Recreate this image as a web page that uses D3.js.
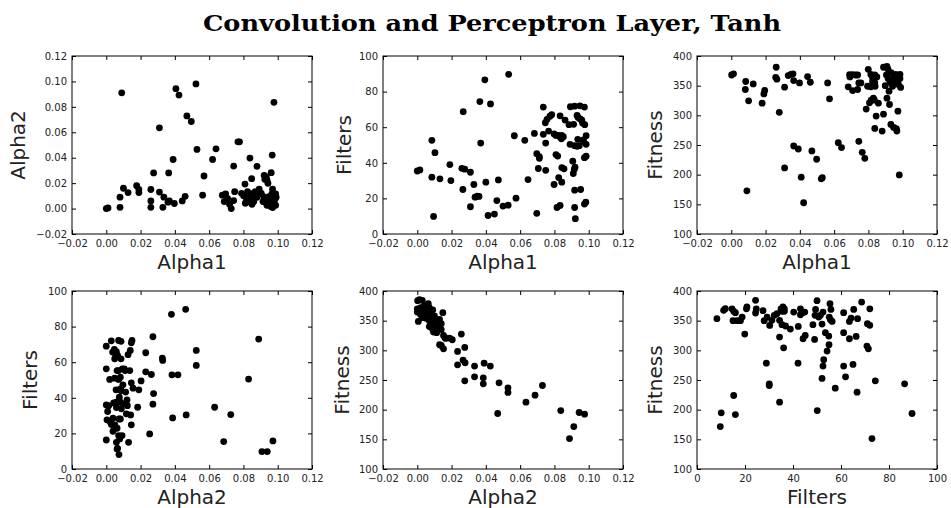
<!DOCTYPE html>
<html>
<head>
<meta charset="utf-8">
<title>Convolution and Perceptron Layer, Tanh</title>
<script src="https://d3js.org/d3.v7.min.js"></script>
<style>
  body { margin: 0; background: #fff; }
  svg text { font-family: "DejaVu Sans", sans-serif; fill: #222; }
</style>
</head>
<body>
<div id="chart"></div>
<script>
// tick values
var alphaTicks = [-0.02, 0.00, 0.02, 0.04, 0.06, 0.08, 0.10, 0.12];
var filtersTicks = [0, 20, 40, 60, 80, 100];
var fitnessTicks = [100, 150, 200, 250, 300, 350, 400];

// points, [x, y]
var alpha1Alpha2 = [
  [0.000,0.000],[0.001,0.0005],[0.009,0.091],[0.008,0.001],[0.008,0.009],[0.010,0.016],[0.0127,0.0126],
  [0.0177,0.018],[0.019,0.015],[0.019,0.0126],[0.026,0.015],[0.026,0.006],[0.026,0.001],[0.0276,0.028],
  [0.031,0.0635],[0.031,0.013],[0.033,0.001],[0.0336,0.009],[0.036,0.005],[0.0364,0.028],[0.0368,0.006],
  [0.039,0.0386],[0.0397,0.004],[0.0406,0.0943],[0.0424,0.0893],[0.0443,0.006],[0.046,0.0096],[0.047,0.0729],
  [0.0496,0.0685],[0.0523,0.098],[0.0529,0.0465],[0.0562,0.0105],[0.057,0.0256],[0.062,0.0386],[0.064,0.047],
  [0.0677,0.0105],[0.0696,0.0115],[0.0708,0.0079],[0.0688,0.0055],[0.0719,0.0034],[0.0729,0.000],[0.0743,0.0063],
  [0.0749,0.0133],[0.0743,0.0334],[0.0768,0.0525],[0.0777,0.0525],[0.0809,0.0193],[0.0838,0.0397],[0.0848,0.0235],
  [0.0879,0.0332],[0.0789,0.012],[0.0801,0.010],[0.0817,0.0084],[0.0830,0.0115],[0.0844,0.0094],[0.0856,0.012],
  [0.0811,0.0042],[0.0830,0.0052],[0.0850,0.0034],[0.0879,0.0089],[0.0892,0.0152],[0.0904,0.012],[0.0918,0.0094],
  [0.0929,0.0058],[0.0937,0.0026],[0.0947,0.0037],[0.0956,0.0079],[0.0966,0.0115],[0.0976,0.0094],[0.0988,0.0026],
  [0.0984,0.0073],[0.0972,0.0052],[0.0960,0.0016],[0.0921,0.0261],[0.0937,0.0225],[0.0943,0.0199],[0.0962,0.0282],
  [0.0968,0.0421],[0.0970,0.0152],[0.0978,0.0836],[0.0970,0.0008],[0.0991,0.0089],[0.0988,0.0115],[0.0925,0.023],
  [0.0933,0.025],[0.0869,0.0133],[0.0824,0.0133],[0.0914,0.0055],[0.0949,0.0094],[0.0860,0.0055]
];

var alpha1Filters = [
  [0.000,35.4],[0.0015,36],[0.0085,52.6],[0.0085,31.9],[0.0095,9.9],[0.0103,45.7],[0.0132,31],[0.019,39],
  [0.0196,30],[0.026,36.9],[0.0277,36.4],[0.0266,25],[0.0268,68.7],[0.031,34.7],[0.031,15.3],[0.033,27.8],
  [0.0337,20.7],[0.035,21.3],[0.036,21.1],[0.0365,74.4],[0.037,51.1],[0.0394,86.6],[0.040,29.1],[0.0413,10.4],
  [0.0427,73.1],[0.045,11.2],[0.0464,18.8],[0.0473,30.4],[0.050,15.7],[0.053,16.2],[0.0533,89.7],[0.0566,55.2],
  [0.0576,20.1],[0.0627,52.6],[0.0646,30.6],[0.0683,56.5],[0.0697,11.6],[0.0697,45.1],[0.0712,43.5],[0.0712,42.5],
  [0.0706,36.8],[0.0735,56],[0.0735,71.3],[0.0747,62.5],[0.0749,51.1],[0.0749,35.8],[0.0757,64.4],[0.0766,57.8],
  [0.0774,66.2],[0.0784,67],[0.0798,27.8],[0.0809,44.6],[0.0819,43.8],[0.0798,56.2],[0.0809,55.4],[0.0821,55.4],
  [0.0833,54.5],[0.0842,55.4],[0.0852,54.7],[0.0815,14.9],[0.0833,16],[0.0825,31.7],[0.0833,66.4],[0.0841,53.5],
  [0.0843,29.1],[0.0843,37.3],[0.0856,36.6],[0.0862,64],[0.0885,61.4],[0.0891,50.4],[0.0893,71.5],[0.0918,71.8],
  [0.0949,72],[0.0975,71.3],[0.0907,40.9],[0.0912,61.6],[0.091,34],[0.0916,36.4],[0.092,37.5],[0.0918,24.6],
  [0.0918,49.6],[0.0932,49.3],[0.0945,49.6],[0.0918,14.9],[0.0922,8.6],[0.0932,66.6],[0.0938,65.5],[0.095,64.6],
  [0.096,64],[0.0936,53.2],[0.0953,25],[0.0964,62.3],[0.0968,52.8],[0.0975,16.8],[0.0983,17.9],[0.0975,42.9],
  [0.0985,43.7],[0.0977,61.4],[0.0985,50.4],[0.0985,55.2],[0.097,51.9]
];

var alpha1Fitness = [
  [0.0002,368],[0.0013,370],[0.0084,357],[0.0082,343.5],[0.0101,324.5],[0.0091,172.8],[0.0128,353],[0.018,320.5],
  [0.019,336],[0.0195,342],[0.0262,381],[0.0259,364],[0.0266,361],[0.028,305],[0.0311,347.4],[0.0311,211.4],
  [0.0332,367],[0.0348,369],[0.036,370],[0.0364,358.6],[0.0364,248.3],[0.0391,243.3],[0.0398,354.7],[0.0408,195.7],
  [0.0422,152.7],[0.0445,365.3],[0.0461,355.8],[0.047,240],[0.0498,226],[0.0525,193],[0.0531,195],[0.0562,354.7],
  [0.0573,327.8],[0.0624,254],[0.0643,245.6],[0.0682,348],[0.0692,364.7],[0.069,368.7],[0.0708,368.7],[0.0725,368],
  [0.0737,368],[0.0708,341.8],[0.0737,343.5],[0.0744,354.7],[0.0756,354.7],[0.0744,256.2],[0.0764,237.7],[0.0779,227.6],
  [0.0787,310.5],[0.0799,377.6],[0.0795,349],[0.0814,369],[0.0824,363.6],[0.0837,368],[0.0849,364.7],[0.0814,348],
  [0.0824,357],[0.0837,355],[0.0839,349],[0.0806,321],[0.0816,325.6],[0.0829,329],[0.0835,325.6],[0.0858,320.5],
  [0.0837,278],[0.0845,298.7],[0.088,273.5],[0.0888,302],[0.0908,382.6],[0.0888,381],[0.0914,378],[0.0905,368],
  [0.0915,362],[0.0925,358],[0.0933,354],[0.0941,349],[0.0949,365],[0.0959,369],[0.0953,358],[0.0969,356],
  [0.0984,362],[0.0988,347],[0.0984,369],[0.092,340.7],[0.0908,329],[0.0923,318.3],[0.0898,350],[0.0932,372],
  [0.0975,352],[0.0931,284.7],[0.0947,279.7],[0.0963,277.5],[0.0966,273.5],[0.0972,307],[0.098,199.6]
];

var alpha2Filters = [
  [0.000,69],[0.0029,72],[0.000,56.3],[0.000,36],[0.000,16.3],[0.0008,32.3],[0.0004,27.6],[0.0014,35.6],
  [0.002,50.3],[0.0024,26.3],[0.003,25],[0.0037,65.7],[0.0039,28.5],[0.0039,21.2],[0.0043,37.1],[0.0047,67.2],
  [0.0053,64.7],[0.0059,65.9],[0.0049,61.9],[0.0049,51],[0.005,24.8],[0.0059,34.5],[0.0059,37.5],[0.0057,44.5],
  [0.0059,15],[0.0063,11.3],[0.0066,11.6],[0.0063,55.3],[0.0072,55.3],[0.0063,22.9],[0.0066,63.8],[0.0072,72.2],
  [0.0086,71.7],[0.0072,50.3],[0.0082,51.6],[0.0072,18.8],[0.0078,16.9],[0.0074,8.1],[0.0074,28.1],[0.0082,28.1],
  [0.0076,40.3],[0.0082,45],[0.0086,44],[0.0082,37.5],[0.0086,61.9],[0.0088,33.8],[0.0092,18.8],[0.0094,56.3],
  [0.0097,47.3],[0.0101,36.6],[0.0105,56.3],[0.011,55.3],[0.0113,43.2],[0.0117,31],[0.0121,38.8],[0.0123,35.6],
  [0.0127,64.2],[0.013,15],[0.0137,55.3],[0.014,66.6],[0.0142,30.4],[0.0146,24.8],[0.0146,70.9],[0.015,72.2],
  [0.0146,48.4],[0.0156,45.4],[0.0183,34.7],[0.019,44.5],[0.0203,49.5],[0.023,65.3],[0.023,54.6],[0.0253,19.7],
  [0.0263,53.1],[0.0272,74.3],[0.0272,36.4],[0.0276,42.4],[0.0327,62.3],[0.0329,61],[0.038,86.9],[0.0383,52.9],
  [0.0418,52.9],[0.0387,28.7],[0.0463,89.7],[0.0466,30.4],[0.0525,66.6],[0.0525,58.2],[0.0632,34.7],[0.0685,15.4],
  [0.0726,30.6],[0.083,50.5],[0.0889,73],[0.0908,9.8],[0.0939,9.8],[0.0972,15.8]
];

var alpha2Fitness = [
  [0.0002,383.7],[0.0013,385.4],[0.0029,384.2],[0.000,370],[0.000,364.5],[0.0006,348.8],[0.0064,378.6],[0.0149,363.4],
  [0.002,372],[0.003,366],[0.004,375],[0.004,360],[0.005,370],[0.005,354],[0.006,366],[0.006,358],
  [0.007,372],[0.007,350],[0.008,362],[0.008,355],[0.009,368],[0.009,346],[0.010,358],[0.010,340],
  [0.011,352],[0.011,345],[0.012,348],[0.012,336],[0.013,342],[0.013,352],[0.014,345],[0.014,335],
  [0.003,355],[0.002,360],[0.005,362],[0.007,340],[0.009,335],[0.0095,330.8],[0.0113,329.7],[0.013,309.4],
  [0.014,308.3],[0.0153,325],[0.016,322],[0.0165,320],[0.0153,302.6],[0.0188,320.6],[0.0204,317.8],[0.0235,298.1],
  [0.0235,275.6],[0.0257,327.4],[0.0277,304.9],[0.0267,283.5],[0.0279,279],[0.0277,248.6],[0.0334,273.4],[0.0334,255.4],
  [0.0385,253.7],[0.0385,243.6],[0.039,278.4],[0.0426,273.4],[0.0477,245.2],[0.0469,193.5],[0.0529,236.8],[0.0529,229],
  [0.0634,212.6],[0.0687,224.4],[0.073,240.7],[0.0837,198.5],[0.0888,151.3],[0.0913,171.5],[0.0944,195.2],[0.0976,192.4]
];

var filtersFitness = [
  [8.3,353.3],[9.7,171.5],[10.1,194.6],[11.1,367.4],[11.8,370.2],[14.6,370],[15.3,365.7],[16,363.4],
  [15,350],[16.7,350],[15.3,223.9],[16,191.8],[18.1,350],[18.8,356],[19.9,327.4],[20.6,370],
  [20.8,373],[24.4,384.2],[24.7,370],[24.4,362.9],[27.5,366.8],[28,350],[28.9,278.4],[29.2,356],
  [30.1,243.6],[30.1,240.7],[30.3,342],[31.2,350.5],[32.2,359],[33.3,361.7],[34.4,322.3],[34.4,212.6],
  [34.4,350.5],[35,370],[35.8,373],[36.4,370],[35.4,365.7],[36.4,365.7],[35.4,343.2],[36.1,304.3],
  [36.9,341],[38.9,335.8],[40.3,364.5],[42.1,278.4],[42.2,340.3],[43.1,370],[44,363.4],[43.1,360],
  [44.2,319.5],[45.1,325.2],[44.9,364.5],[48.3,343.2],[49,318.4],[49.4,369],[49.2,359],[50,383.7],
  [50.1,198.5],[50.7,356],[51.4,359],[52.1,344.3],[52.5,364.5],[52.5,273.4],[52.8,284.2],[52.1,252.6],
  [53.5,329.7],[54.2,298.7],[54.9,324],[55,309.4],[55.1,356],[55.6,351.6],[56.3,348.8],[55.4,378.6],
  [55.8,369],[57.6,236.2],[61.1,329.7],[61.1,363.4],[61.1,273.4],[61.9,255.4],[63.5,319.5],[63.5,348.8],
  [64.2,354.4],[65,276.2],[65.3,369],[66.3,323.5],[66.7,229.5],[66.9,353.3],[68.6,381.4],[70.8,307.2],
  [71.4,302.6],[71,344.9],[72,342.1],[72,370],[72.9,151.3],[74.3,248.6],[86.5,243.6],[89.6,193.5]
];

// layout
var W = 951, H = 508;
var colLeft = [72, 383, 697], rowTop = [56, 291];
var pw = 240, ph = 178;

var panels = [
  {data: alpha1Alpha2,   xt: alphaTicks,   yt: alphaTicks,   xl: "Alpha1",  yl: "Alpha2",  ylOff: 54, col: 0, row: 0},
  {data: alpha1Filters,  xt: alphaTicks,   yt: filtersTicks, xl: "Alpha1",  yl: "Filters", ylOff: 39, col: 1, row: 0},
  {data: alpha1Fitness,  xt: alphaTicks,   yt: fitnessTicks, xl: "Alpha1",  yl: "Fitness", ylOff: 42, col: 2, row: 0},
  {data: alpha2Filters,  xt: alphaTicks,   yt: filtersTicks, xl: "Alpha2",  yl: "Filters", ylOff: 42, col: 0, row: 1},
  {data: alpha2Fitness,  xt: alphaTicks,   yt: fitnessTicks, xl: "Alpha2",  yl: "Fitness", ylOff: 41, col: 1, row: 1},
  {data: filtersFitness, xt: filtersTicks, yt: fitnessTicks, xl: "Filters", yl: "Fitness", ylOff: 42, col: 2, row: 1}
];

var svg = d3.select("#chart").append("svg")
    .attr("width", W).attr("height", H);

svg.append("text")
    .attr("x", 492).attr("y", 31)
    .attr("text-anchor", "middle")
    .attr("textLength", 578)
    .attr("lengthAdjust", "spacingAndGlyphs")
    .style("font-family", "'DejaVu Serif', serif")
    .style("font-weight", "bold")
    .style("font-size", "23px")
    .style("fill", "#000")
    .text("Convolution and Perceptron Layer, Tanh");

function fmt(ticks) {
  return ticks[1] - ticks[0] < 1 ? d3.format(".2f") : d3.format("d");
}

panels.forEach(function(p) {
  var g = svg.append("g")
      .attr("transform", "translate(" + colLeft[p.col] + "," + rowTop[p.row] + ")");

  var x = d3.scaleLinear().domain(d3.extent(p.xt)).range([0, pw]);
  var y = d3.scaleLinear().domain(d3.extent(p.yt)).range([ph, 0]);

  // points
  g.selectAll("circle").data(p.data).enter().append("circle")
      .attr("cx", function(d) { return x(d[0]); })
      .attr("cy", function(d) { return y(d[1]); })
      .attr("r", 3.4)
      .style("fill", "#000");

  // axes, ticks inward on all four sides
  var bottom = g.append("g").attr("transform", "translate(0," + ph + ")")
      .call(d3.axisBottom(x).tickValues(p.xt).tickFormat(fmt(p.xt)).tickSize(-4).tickPadding(6));
  var left = g.append("g")
      .call(d3.axisLeft(y).tickValues(p.yt).tickFormat(fmt(p.yt)).tickSize(-4).tickPadding(5));
  var top = g.append("g")
      .call(d3.axisTop(x).tickValues(p.xt).tickFormat("").tickSize(-4));
  var right = g.append("g").attr("transform", "translate(" + pw + ",0)")
      .call(d3.axisRight(y).tickValues(p.yt).tickFormat("").tickSize(-4));

  [bottom, left, top, right].forEach(function(a) {
    a.select(".domain").remove();
    a.selectAll("line").attr("stroke", "#000");
    a.selectAll("text")
      .style("font-family", "'DejaVu Sans', sans-serif")
      .style("font-size", "10px")
      .style("fill", "#222");
  });

  g.append("rect")
      .attr("width", pw).attr("height", ph)
      .style("fill", "none").style("stroke", "#000").style("stroke-width", 1);

  g.append("text")
      .attr("x", pw / 2).attr("y", ph + 35)
      .attr("text-anchor", "middle")
      .style("font-size", "20px")
      .text(p.xl);

  g.append("text")
      .attr("transform", "translate(" + (-p.ylOff) + "," + (ph / 2) + ") rotate(-90)")
      .attr("text-anchor", "middle")
      .attr("dy", "0.35em")
      .style("font-size", "20px")
      .text(p.yl);
});
</script>
</body>
</html>
